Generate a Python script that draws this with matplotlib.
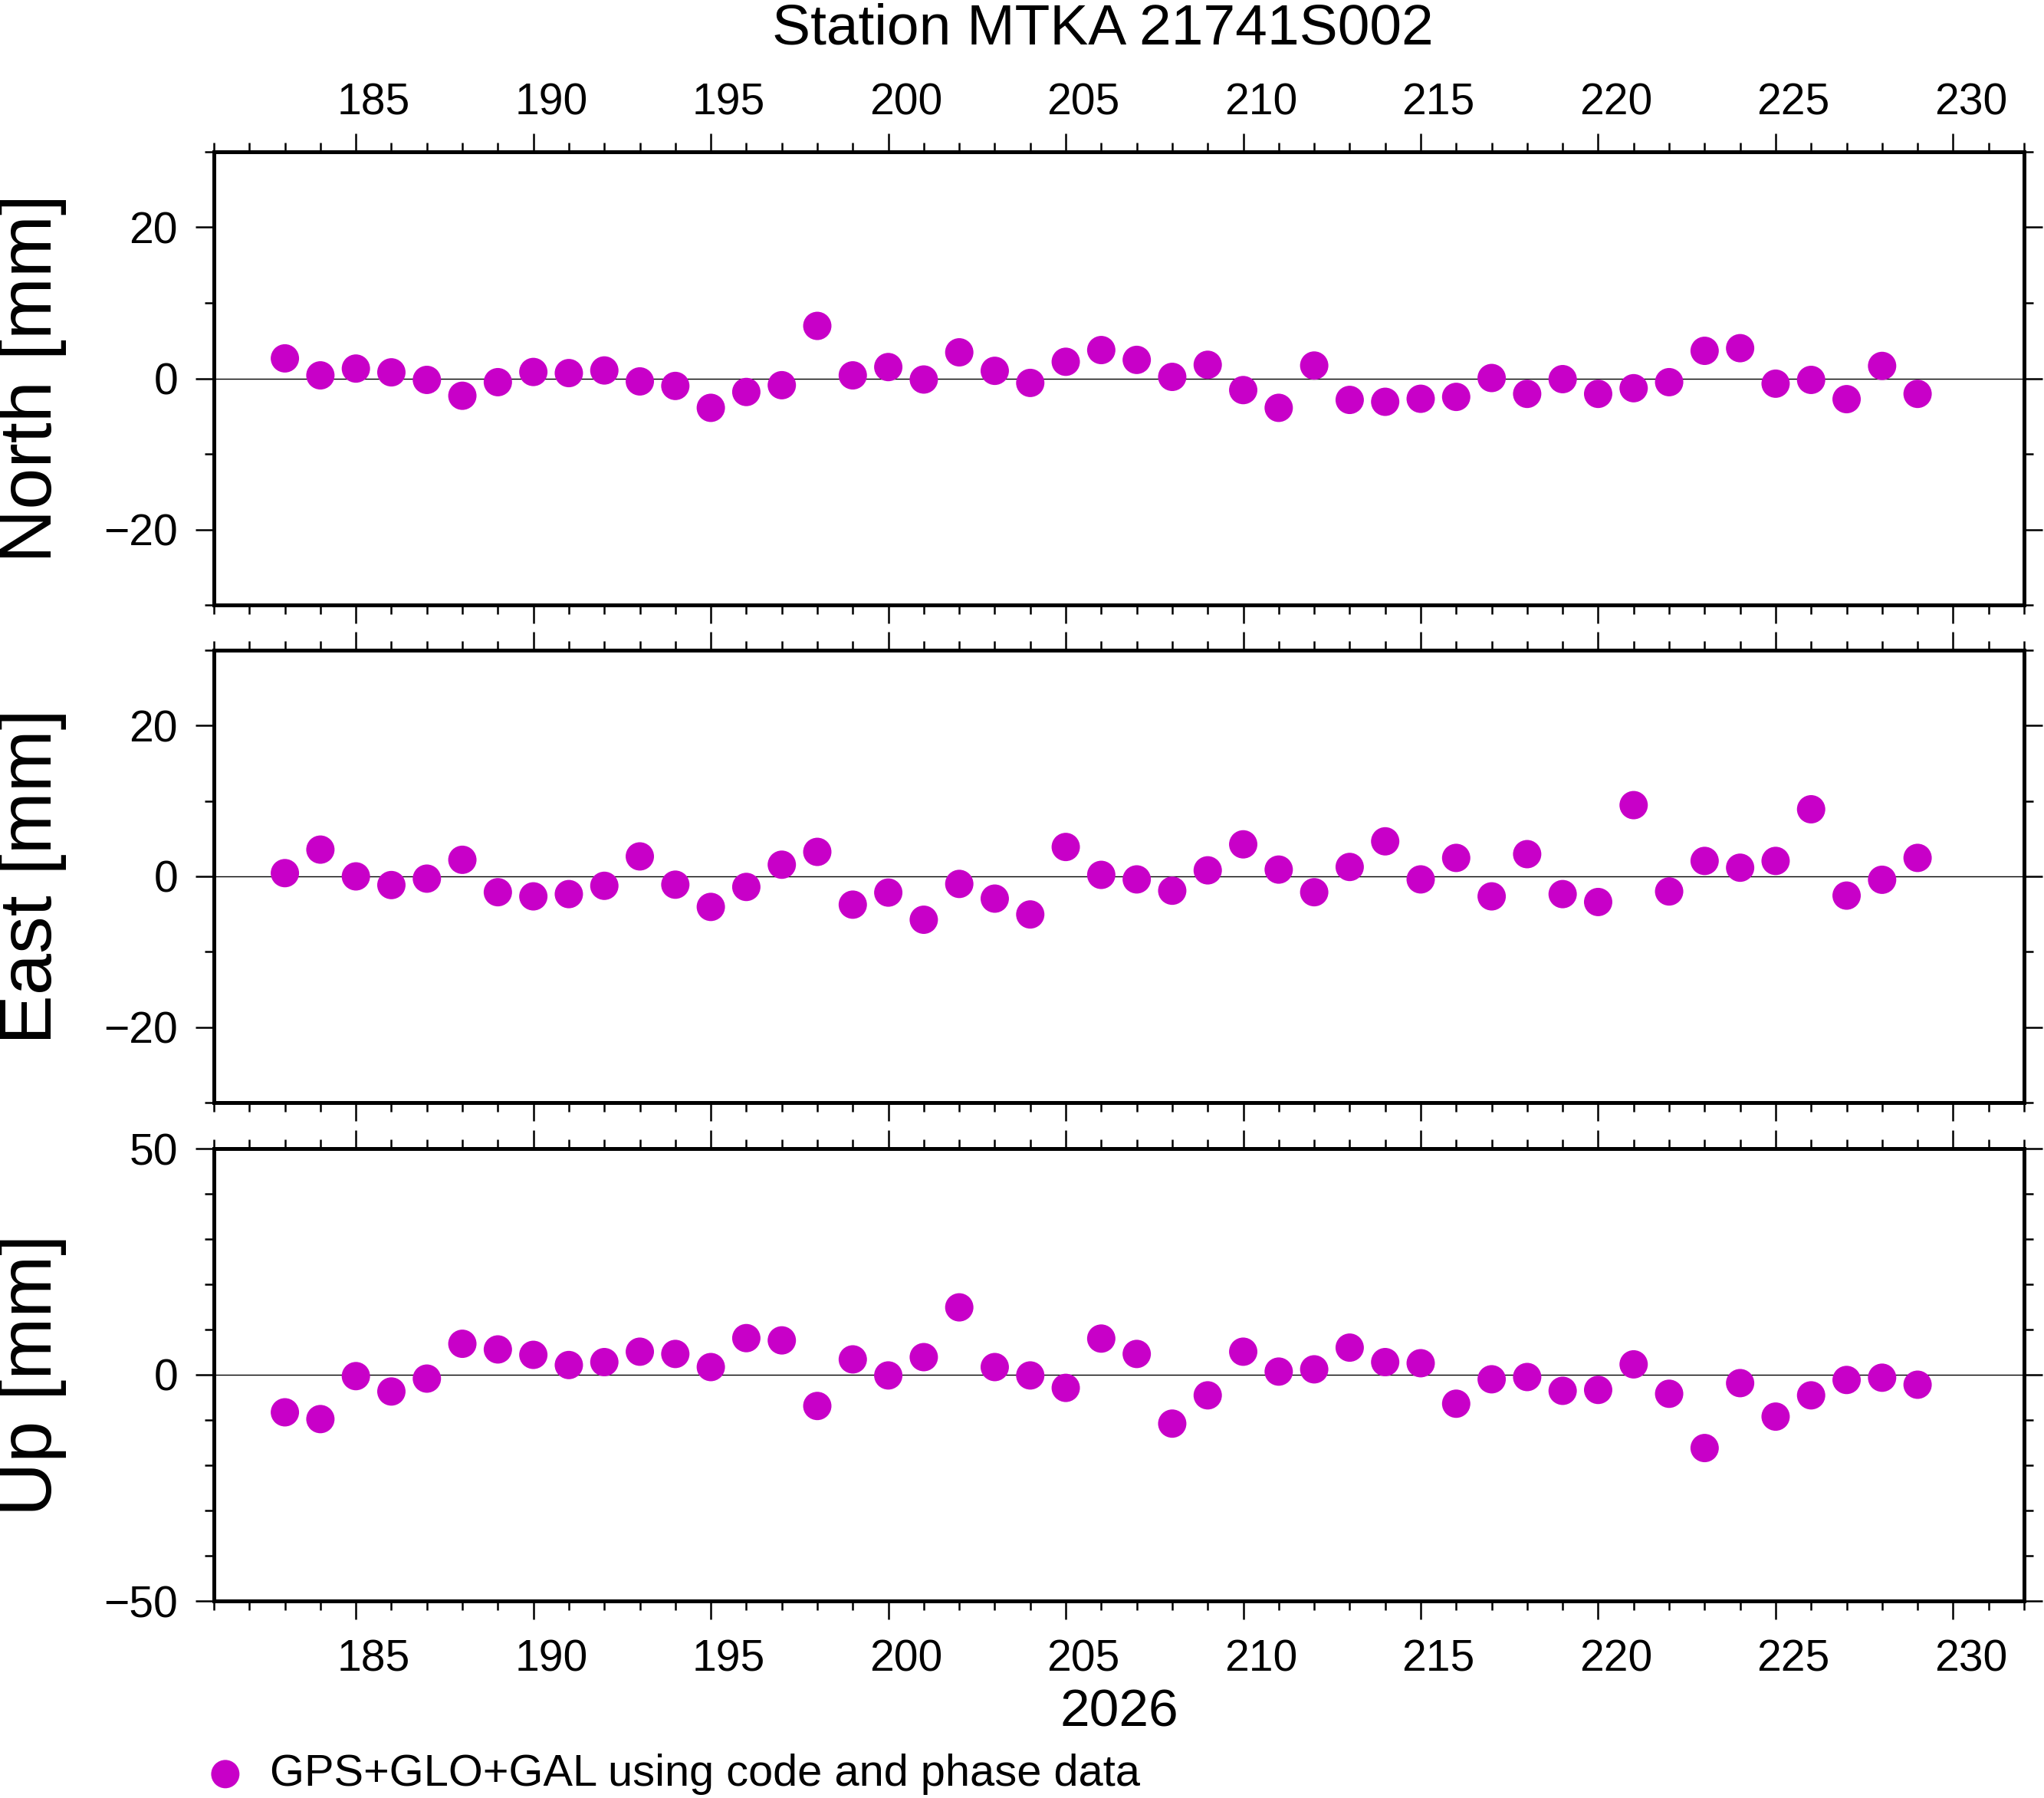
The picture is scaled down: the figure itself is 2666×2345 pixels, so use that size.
import numpy as np
import matplotlib
matplotlib.use('Agg')
import matplotlib.pyplot as plt
from matplotlib.ticker import MultipleLocator, FixedLocator

# datos (dia del anio 2026, residuos en mm)
days = list(range(183, 230))

north = [2.65, 0.4, 1.3, 0.8, -0.2, -2.3, -0.5, 0.85, 0.7, 1.05, -0.4, -1.0,
         -3.9, -1.8, -0.9, 6.95, 0.4, 1.5, -0.15, 3.45, 1.0, -0.6, 2.2, 3.75,
         2.45, 0.2, 1.8, -1.55, -3.9, 1.7, -2.85, -3.1, -2.7, -2.45, 0.05,
         -2.05, -0.1, -2.05, -1.3, -0.5, 3.65, 4.0, -0.7, -0.2, -2.75, 1.65,
         -2.05]

east = [0.43, 3.55, 0.0, -1.15, -0.3, 2.2, -2.1, -2.65, -2.35, -1.25, 2.65,
        -1.1, -4.05, -1.4, 1.55, 3.25, -3.75, -2.15, -5.75, -1.0, -2.95,
        -5.05, 3.9, 0.2, -0.4, -1.9, 0.8, 4.25, 0.9, -2.1, 1.25, 4.65, -0.4,
        2.45, -2.65, 2.95, -2.35, -3.4, 9.45, -2.0, 2.05, 1.15, 2.05, 8.9,
        -2.55, -0.45, 2.45]

up = [-8.3, -9.8, -0.3, -3.7, -0.85, 6.85, 5.6, 4.4, 2.15, 2.8, 5.1, 4.6,
      1.7, 8.1, 7.6, -6.9, 3.4, -0.15, 3.9, 14.9, 1.7, -0.15, -2.9, 8.0,
      4.6, -10.8, -4.55, 5.1, 0.7, 1.2, 6.0, 2.8, 2.55, -6.4, -1.0, -0.5,
      -3.55, -3.35, 2.3, -4.2, -16.2, -1.85, -9.25, -4.55, -1.15, -0.65,
      -2.2]

series = [north, east, up]
ylabels = ['North [mm]', 'East [mm]', 'Up [mm]']
ylims = [(-30, 30), (-30, 30), (-50, 50)]
ymajor = [20, 20, 50]
yminor = [10, 10, 10]
xtick_days = [185, 190, 195, 200, 205, 210, 215, 220, 225, 230]

title = 'Station MTKA 21741S002'
year_label = '2026'
legend_label = 'GPS+GLO+GAL using code and phase data'
dot_color = '#c800c8'

plt.rcParams['font.family'] = ['Liberation Sans', 'DejaVu Sans']

W, H = 2666, 2345
fig = plt.figure(figsize=(W / 100, H / 100), dpi=100)

# posiciones de los paneles en pixeles (arriba, abajo)
left_px, right_px = 279, 2640
panels_px = [(198, 789), (848, 1438), (1498, 2088)]

tick_fs = 41
major_len, minor_len = 17.3, 8.6
lab_pad = 16.5

axes = []
for i, (top_px, bot_px) in enumerate(panels_px):
  ax = fig.add_axes([left_px / W, 1 - bot_px / H,
                     (right_px - left_px) / W, (bot_px - top_px) / H])
  sc = ax.scatter(days, series[i], s=708, color=dot_color, edgecolors='none',
                  zorder=3, label=legend_label, clip_on=False)
  ax.axhline(0, color='k', lw=1.0, zorder=2)
  ax.set_xlim(181, 232)
  ax.set_ylim(*ylims[i])
  ax.xaxis.set_major_locator(MultipleLocator(5))
  ax.xaxis.set_minor_locator(MultipleLocator(1))
  ax.yaxis.set_major_locator(MultipleLocator(ymajor[i]))
  ax.yaxis.set_minor_locator(MultipleLocator(yminor[i]))
  for sp in ax.spines.values():
    sp.set_linewidth(3.6)
  ax.tick_params(which='both', direction='out', top=True, bottom=True,
                 left=True, right=True, width=1.8, labelsize=tick_fs)
  ax.tick_params(which='major', length=major_len, pad=lab_pad)
  ax.tick_params(which='minor', length=minor_len)
  ax.tick_params(axis='x', labelbottom=False, labeltop=False)
  ax.set_yticklabels([('\u2212' + str(int(-v))) if v < 0 else str(int(v))
                      for v in ax.get_yticks()])
  ax.set_ylabel(ylabels[i], fontsize=70, va='center')
  ax.yaxis.set_label_coords((42 - left_px) / (right_px - left_px), 0.5)
  axes.append(ax)

# etiquetas del eje x centradas en medio dia (estilo GMT)
def fwd(x):
  return x - 0.5

def inv(x):
  return x + 0.5

for ax, where, pad in [(axes[0], 'top', 26.0), (axes[2], 'bottom', 35.5)]:
  sec = ax.secondary_xaxis(where, functions=(fwd, inv))
  sec.xaxis.set_major_locator(FixedLocator(xtick_days))
  sec.xaxis.set_minor_locator(FixedLocator([]))
  sec.tick_params(length=0, pad=pad, labelsize=tick_fs)
  sec.spines[where].set_visible(False)

fig.text(1438 / W, 1 - 57 / H, title, fontsize=54, ha='center', va='baseline')
fig.text(1460 / W, 1 - 2252 / H, year_label, fontsize=50, ha='center',
         va='baseline')

fig.legend(handles=[sc], loc='center left', bbox_to_anchor=(265 / W, 1 - 2314 / H),
           frameon=False, fontsize=41.6, handlelength=1.0, handletextpad=0.5,
           borderpad=0, borderaxespad=0, scatterpoints=1)

fig.savefig('out.png', dpi=100)
